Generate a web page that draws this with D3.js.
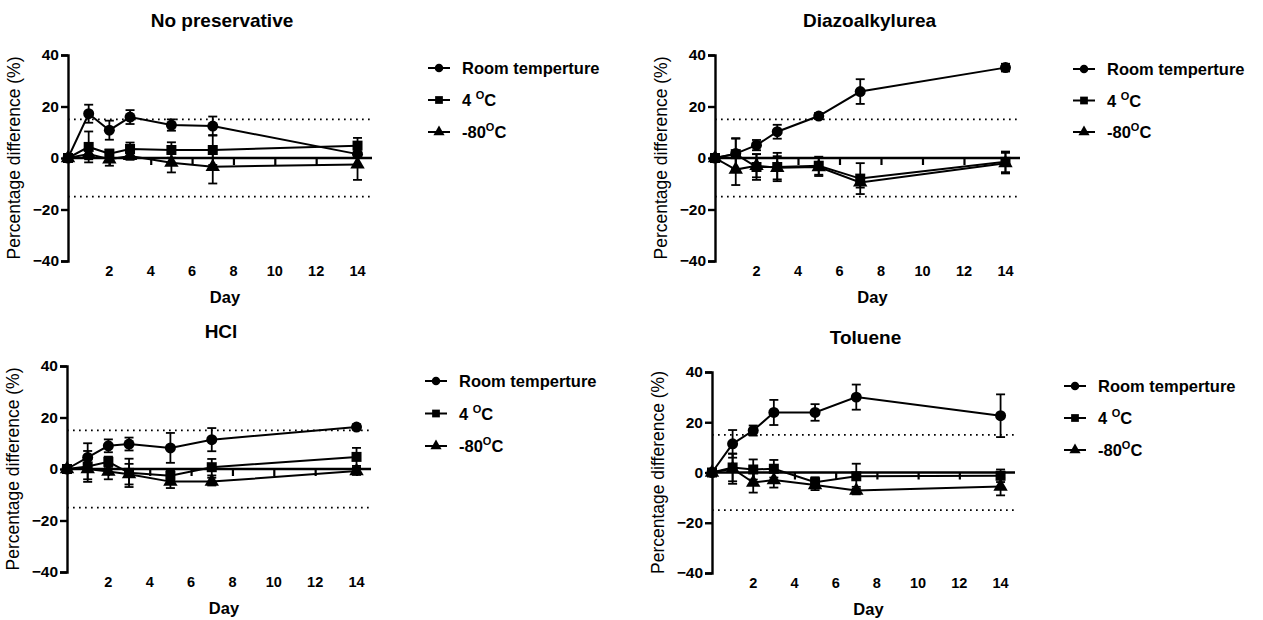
<!DOCTYPE html>
<html>
<head>
<meta charset="utf-8">
<script src="https://cdn.jsdelivr.net/npm/d3@7"></script>
<style>
  body { margin: 0; background: #fff; }
  svg { display: block; font-family: Arial, "Liberation Sans", sans-serif; }
</style>
</head>
<body>
<svg id="chart" width="1263" height="620"></svg>
<script>
// ---- Data ----
const days = [0, 1, 2, 3, 5, 7, 14];
const xTicks = [2, 4, 6, 8, 10, 12, 14];
const yTicks = [-40, -20, 0, 20, 40];
const limits = [15, -15];
const seriesNames = ["Room temperture", "4 °C", "-80°C"];

const noPresRT  = [0, 17.2, 10.8, 15.9, 12.8, 12.4, 1.5];
const noPresRTe = [0, 3.5, 3.7, 2.7, 2.2, 3.7, 1.0];
const noPres4C  = [0, 4.3, 1.7, 3.5, 3.1, 3.1, 4.8];
const noPres4Ce = [0, 6.0, 1.5, 2.5, 3.0, 5.8, 3.0];
const noPresM80  = [0, 1.5, -0.5, 0.8, -1.8, -3.4, -2.5];
const noPresM80e = [0, 2.0, 2.5, 1.5, 3.8, 6.5, 6.0];

const diazoRT  = [0, 1.7, 5.0, 10.2, 16.3, 25.8, 35.1];
const diazoRTe = [0, 6.0, 2.0, 2.7, 1.2, 4.8, 1.5];
const diazo4C  = [0, 1.5, -3.5, -3.5, -3.0, -8.0, -1.5];
const diazo4Ce = [0, 6.0, 5.0, 5.5, 3.5, 6.0, 4.0];
const diazoM80  = [0, -4.5, -3.0, -3.8, -3.5, -9.5, -2.0];
const diazoM80e = [0, 6.0, 4.5, 4.5, 3.5, 2.0, 4.0];

const hclRT  = [0, 4.5, 9.0, 9.7, 8.2, 11.4, 16.3];
const hclRTe = [0, 5.5, 2.5, 2.5, 5.8, 4.5, 1.0];
const hcl4C  = [0, 1.0, 2.8, -1.5, -2.6, 0.7, 4.7];
const hcl4Ce = [0, 6.0, 2.0, 5.5, 2.0, 3.2, 3.5];
const hclM80  = [0, 0.0, -1.0, -2.0, -4.9, -4.9, -0.8];
const hclM80e = [0, 4.0, 3.0, 4.0, 2.5, 1.5, 1.5];

const tolRT  = [0, 11.4, 16.7, 23.9, 23.9, 30.0, 22.6];
const tolRTe = [0, 5.5, 2.0, 5.0, 3.3, 5.0, 8.5];
const tol4C  = [0, 2.0, 1.2, 1.5, -3.9, -1.5, -1.3];
const tol4Ce = [0, 5.5, 4.0, 3.5, 2.0, 5.0, 2.5];
const tolM80  = [0, 1.5, -4.0, -3.0, -5.0, -7.2, -5.6];
const tolM80e = [0, 6.0, 4.0, 3.0, 2.0, 1.5, 3.5];

const panels = [
  { title: "No preservative", x0: 68, w: 304, yt: 55, yb: 261, leg: { x: 428, y: 68, dy: 32 },
    series: [[noPresRT, noPresRTe], [noPres4C, noPres4Ce], [noPresM80, noPresM80e]] },
  { title: "Diazoalkylurea", x0: 715, w: 305, yt: 55, yb: 261, leg: { x: 1073, y: 69, dy: 31.5 },
    series: [[diazoRT, diazoRTe], [diazo4C, diazo4Ce], [diazoM80, diazoM80e]] },
  { title: "HCl", x0: 67, w: 304, yt: 366, yb: 572, leg: { x: 425, y: 381, dy: 32.5 },
    series: [[hclRT, hclRTe], [hcl4C, hcl4Ce], [hclM80, hclM80e]] },
  { title: "Toluene", x0: 712, w: 303, yt: 372, yb: 573, leg: { x: 1064, y: 386, dy: 32 },
    series: [[tolRT, tolRTe], [tol4C, tol4Ce], [tolM80, tolM80e]] }
];

const svg = d3.select("#chart");
const shapes = [d3.symbolCircle, d3.symbolSquare, d3.symbolTriangle];
const shapeSize = [95, 100, 90];

function drawMarker(g, k, x, y, scale) {
  g.append("path")
    .attr("d", d3.symbol().type(shapes[k]).size(shapeSize[k] * scale)())
    .attr("transform", `translate(${x},${y})`)
    .attr("fill", "#000");
}

panels.forEach(p => {
  const x = d3.scaleLinear().domain([0, 14.7]).range([p.x0, p.x0 + p.w]);
  const y = d3.scaleLinear().domain([-40, 40]).range([p.yb, p.yt]);
  const g = svg.append("g");

  // Title
  g.append("text").attr("x", p.x0 + p.w / 2 + 2).attr("y", p.yt - 28)
    .attr("text-anchor", "middle").attr("font-size", 19).attr("font-weight", "bold")
    .text(p.title);

  // Y axis
  const yAxis = d3.axisLeft(y).tickValues(yTicks).tickSize(7).tickPadding(2);
  const ya = g.append("g").attr("transform", `translate(${p.x0},0)`).call(yAxis);
  ya.attr("font-size", null).attr("font-family", null);
  ya.select(".domain").attr("stroke-width", 2.4);
  ya.selectAll(".tick line").attr("stroke-width", 2.4);
  ya.selectAll("text").style("font-size", "15.5px").style("font-weight", "bold")
    .attr("fill", "#000");

  // Y title
  g.append("text")
    .attr("transform", `translate(${p.x0 - 48},${(p.yt + p.yb) / 2}) rotate(-90)`)
    .attr("text-anchor", "middle").attr("font-size", 17.5)
    .text("Percentage difference (%)");

  // Dotted limit lines
  limits.forEach(l => {
    g.append("line").attr("x1", p.x0).attr("x2", x(14.7))
      .attr("y1", y(l)).attr("y2", y(l))
      .attr("stroke", "#000").attr("stroke-width", 1.7).attr("stroke-dasharray", "1.7,4.3");
  });

  // X axis at zero with ticks pointing down
  const xAxis = d3.axisBottom(x).tickValues(xTicks).tickSize(7).tickFormat("");
  const xa = g.append("g").attr("transform", `translate(0,${y(0)})`).call(xAxis);
  xa.select(".domain").attr("stroke-width", 2.4).attr("d", `M${p.x0},0H${x(14.7)}`);
  xa.selectAll(".tick line").attr("stroke-width", 2.2);

  // X tick labels at bottom
  g.selectAll(".xl").data(xTicks).enter().append("text")
    .attr("x", d => x(d)).attr("y", p.yb + 15)
    .attr("text-anchor", "middle").style("font-size", "14.5px").style("font-weight", "bold")
    .text(d => d);

  g.append("text").attr("x", p.x0 + p.w / 2 + 5).attr("y", p.yb + 42)
    .attr("text-anchor", "middle").attr("font-size", 16.5).attr("font-weight", "bold")
    .text("Day");

  // Series
  p.series.forEach(([vals, errs], k) => {
    const pts = days.map((d, i) => ({ d, v: vals[i], e: errs[i] }));
    g.append("path").datum(pts)
      .attr("d", d3.line().x(q => x(q.d)).y(q => y(q.v)))
      .attr("fill", "none").attr("stroke", "#000").attr("stroke-width", 2);
    pts.filter(q => q.e > 0).forEach(q => {
      const cx = x(q.d), t = y(q.v + q.e), b = y(q.v - q.e);
      g.append("line").attr("x1", cx).attr("x2", cx).attr("y1", t).attr("y2", b)
        .attr("stroke", "#000").attr("stroke-width", 1.8);
      [t, b].forEach(yy => g.append("line").attr("x1", cx - 4.5).attr("x2", cx + 4.5)
        .attr("y1", yy).attr("y2", yy).attr("stroke", "#000").attr("stroke-width", 1.8));
    });
    pts.forEach(q => drawMarker(g, k, x(q.d), y(q.v), 1));
  });

  // Legend
  seriesNames.forEach((name, k) => {
    const ly = p.leg.y + k * p.leg.dy;
    g.append("line").attr("x1", p.leg.x).attr("x2", p.leg.x + 22)
      .attr("y1", ly).attr("y2", ly).attr("stroke", "#000").attr("stroke-width", 2);
    drawMarker(g, k, p.leg.x + 11, ly, 0.6);
    const t = g.append("text").attr("x", p.leg.x + 34).attr("y", ly + 6)
      .attr("font-size", 16.5).attr("font-weight", "bold");
    if (k === 0) {
      t.text(name);
    } else if (k === 1) {
      t.append("tspan").text("4 ");
      t.append("tspan").attr("font-size", 11).attr("dy", -7).text("O");
      t.append("tspan").attr("dy", 7).text("C");
    } else {
      t.append("tspan").text("-80");
      t.append("tspan").attr("font-size", 11).attr("dy", -7).text("O");
      t.append("tspan").attr("dy", 7).text("C");
    }
  });
});
</script>
</body>
</html>
